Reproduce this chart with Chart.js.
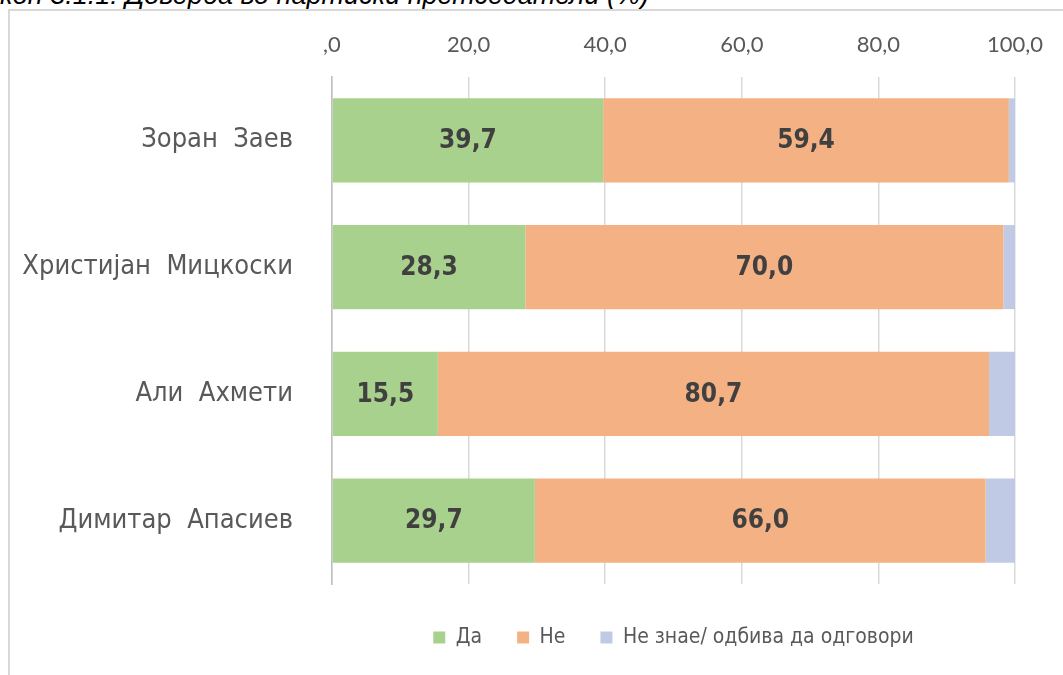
<!DOCTYPE html>
<html>
<head>
<meta charset="utf-8">
<script src="https://cdn.jsdelivr.net/npm/chart.js@4.4.1/dist/chart.umd.min.js"></script>
<style>
  html, body { margin: 0; padding: 0; background: #fff; overflow: hidden; }
  #frame {
    position: absolute; left: 8px; top: 9px; width: 1100px; height: 700px;
    border: 2px solid #d9d9d9; box-sizing: border-box;
  }
  #title {
    position: absolute; top: -18px; left: 0; white-space: nowrap;
    font: italic 27px/27px "Liberation Sans", Arial, sans-serif; color: #000;
  }
  #wrap { position: absolute; left: 0; top: 0; width: 1063px; height: 675px; }
</style>
</head>
<body>
<div id="title"><span id="titleHidden">Графи</span>кон 3.1.1: Доверба во партиски претседатели (%)</div>
<div id="frame"></div>
<div id="wrap"><canvas id="trustChart"></canvas></div>
<script>
const categories = ["Зоран  Заев", "Христијан  Мицкоски", "Али  Ахмети", "Димитар  Апасиев"];
const seriesLabels = ["Да", "Не", "Не знае/ одбива да одговори"];
const yesValues = [39.7, 28.3, 15.5, 29.7];
const noValues = [59.4, 70.0, 80.7, 66.0];
const dontKnowValues = [0.9, 1.7, 3.8, 4.3];
const tickValues = [0, 20, 40, 60, 80, 100];

const narrow = '"DejaVu Sans Condensed", Roboto, sans-serif';

// push the hidden start of the cut-off caption out of view
const hidden = document.getElementById("titleHidden");
document.getElementById("title").style.left = -hidden.offsetWidth + "px";

const fmt = (v) => (v === 0 ? ",0" : v.toFixed(1).replace(".", ","));

const valueLabels = {
  id: "valueLabels",
  afterDatasetsDraw(chart) {
    const ctx = chart.ctx;
    ctx.save();
    ctx.font = "bold 26px " + narrow;
    ctx.fillStyle = "#404040";
    ctx.textAlign = "center";
    ctx.textBaseline = "middle";
    [0, 1].forEach((di) => {
      chart.getDatasetMeta(di).data.forEach((bar, i) => {
        const v = chart.data.datasets[di].data[i];
        ctx.fillText(fmt(v), (bar.x + bar.base) / 2, bar.y + 1);
      });
    });
    ctx.restore();
  },
};

new Chart(document.getElementById("trustChart"), {
  type: "bar",
  data: {
    labels: categories,
    datasets: [
      { label: seriesLabels[0], data: yesValues, backgroundColor: "#a9d18e" },
      { label: seriesLabels[1], data: noValues, backgroundColor: "#f4b183" },
      { label: seriesLabels[2], data: dontKnowValues, backgroundColor: "#c1cae4" },
    ],
  },
  options: {
    indexAxis: "y",
    responsive: true,
    maintainAspectRatio: false,
    animation: false,
    layout: { padding: { left: 0, right: 48, top: 0, bottom: 17 } },
    datasets: {
      bar: { barPercentage: 0.663, categoryPercentage: 1, borderWidth: 0 },
    },
    scales: {
      x: {
        position: "top",
        stacked: true,
        min: 0,
        max: 100,
        afterBuildTicks: (s) => { s.ticks = tickValues.map((v) => ({ value: v })); },
        afterFit: (s) => { s.height = 77; },
        ticks: {
          color: "#595959",
          padding: 19,
          font: { family: "Lato, 'Open Sans', sans-serif", size: 22 },
          callback: (v) => fmt(v),
        },
        grid: { color: "#d9d9d9", lineWidth: 1.5, drawTicks: false },
        border: { display: false },
      },
      y: {
        stacked: true,
        afterFit: (s) => { s.width = 332; },
        ticks: {
          color: "#595959",
          padding: 31,
          font: { family: narrow, size: 27 },
        },
        grid: { display: false },
        border: { display: true, color: "#bfbfbf", width: 1.5 },
      },
    },
    plugins: {
      tooltip: { enabled: false },
      legend: {
        position: "bottom",
        fullSize: false,
        title: { display: true, text: "", font: { size: 5 }, padding: { top: 2, bottom: 0 } },
        labels: {
          color: "#595959",
          boxWidth: 12,
          boxHeight: 12,
          padding: 35,
          font: { family: narrow, size: 21 },
        },
      },
    },
  },
  plugins: [valueLabels],
});
</script>
</body>
</html>
